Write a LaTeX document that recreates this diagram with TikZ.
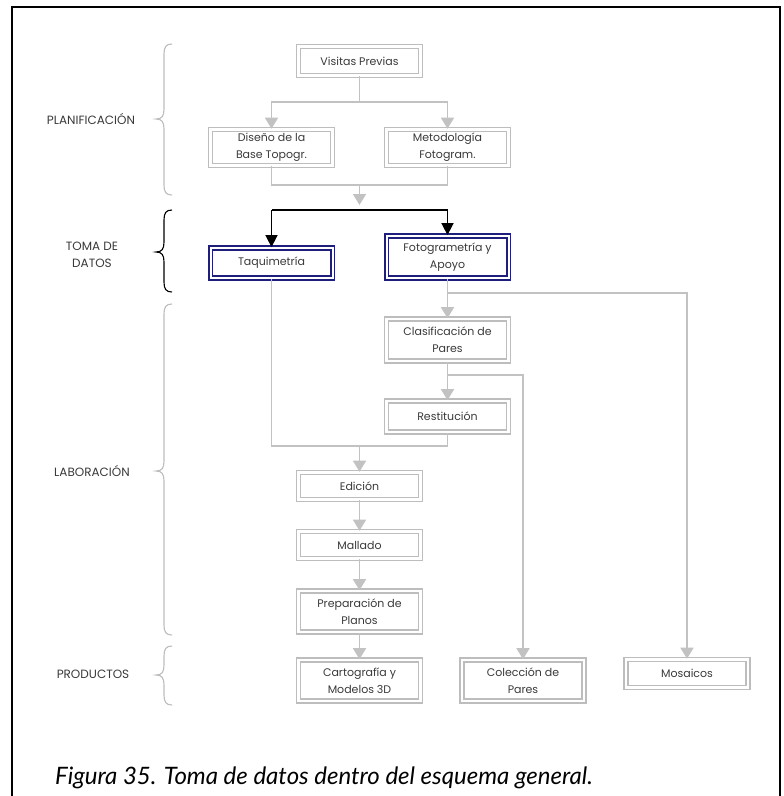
\documentclass[tikz,border=0pt]{standalone}
\usepackage{fontspec}
\setmainfont{Poppins}
\newfontfamily\capfont{Lato}
\usetikzlibrary{arrows.meta}

\definecolor{linegray}{HTML}{C2C2C2}
\definecolor{boxgray}{HTML}{BDBDBD}
\definecolor{navy}{HTML}{1E1E7C}
\definecolor{ink}{HTML}{3A3A3A}

% curly bracket opening to the right, point at the left
\newcommand\secbrace[4]{%
  \draw[#1, line width=1.1pt]
    (172,#2) .. controls (166,#2) and (164,{#2+3}) .. (164,{#2+10})
    -- (164,{#3-10}) .. controls (164,{#3-3}) and (162,#3) .. (156,#3)
    .. controls (162,#3) and (164,{#3+3}) .. (164,{#3+10})
    -- (164,{#4-10}) .. controls (164,{#4-3}) and (166,#4) .. (172,#4);}

\begin{document}
\begin{tikzpicture}[x=1pt,y=-1pt,
  every node/.style={font=\fontsize{11}{17}\selectfont, text=ink},
  stage/.style={draw=boxgray, double=white, double distance=2.4pt, line width=1.6pt,
    fill=white, align=center, minimum width=122pt, inner sep=0pt},
  stagehi/.style={stage, draw=navy, line width=1.8pt, double distance=2pt},
  flow/.style={draw=linegray, line width=1.6pt},
  flowarrow/.style={flow, -{Triangle[width=13pt,length=11pt]}},
  blackarrow/.style={draw=black, line width=1.6pt, -{Triangle[width=12pt,length=12pt]}},
  phase/.style={font=\fontsize{12}{17}\selectfont, align=center, text=ink}]

\fill[white] (0,0) rectangle (784,796);
\useasboundingbox (0,0) rectangle (784,796);

% outer frame, open at the bottom
\draw[line width=2.6pt] (12,796) -- (12,7) -- (780,7) -- (780,796);

% stages
\node[stage, minimum height=29pt] (vis) at (359.5,61) {Visitas Previas};
\node[stage, minimum height=36pt] (dis) at (271.5,147.5) {Diseño de la\\Base Topogr.};
\node[stage, minimum height=36pt] (met) at (447.5,147.5) {Metodología\\Fotogram.};
\node[stagehi, minimum height=30pt] (taq) at (271.5,263) {Taquimetría};
\node[stagehi, minimum height=42pt] (fot) at (447.5,257) {Fotogrametría y\\Apoyo};
\node[stage, minimum height=42pt] (cla) at (447.5,340) {Clasificación de\\Pares};
\node[stage, minimum height=31pt] (res) at (447.5,416.5) {Restitución};
\node[stage, minimum height=27pt] (edi) at (359.5,486) {Edición};
\node[stage, minimum height=27pt] (mal) at (359.5,545) {Mallado};
\node[stage, minimum height=41pt] (pre) at (359.5,611.5) {Preparación de\\Planos};
\node[stage, minimum height=41pt] (car) at (359.5,680.5) {Cartografía y\\Modelos 3D};
\node[stage, minimum height=41pt] (col) at (523,680.5) {Colección de\\Pares};
\node[stage, minimum height=28pt] (mos) at (687,673.5) {Mosaicos};

% junction points
\coordinate (j1) at (359.5,102);
\coordinate (j2) at (359.5,185);
\coordinate (j3) at (359.5,205);
\coordinate (k1) at (359.5,210);
\coordinate (j4) at (447.5,293);
\coordinate (j5) at (447.5,375);
\coordinate (j6) at (359.5,446);

% planning
\draw[flow] (vis) -- (j1);
\draw[flowarrow] (j1) -| (dis.north);
\draw[flowarrow] (j1) -| (met.north);
\draw[flow] (dis.south) |- (j2) -| (met.south);
\draw[flowarrow] (j2) -- (j3);

% data capture
\draw[black, line width=1.6pt] (k1) -- (taq.north |- k1);
\draw[black, line width=1.6pt] (k1) -- (fot.north |- k1);
\draw[blackarrow] (taq.north |- k1) -- (taq.north);
\draw[blackarrow] (fot.north |- k1) -- (fot.north);

% processing
\draw[flowarrow] (fot) -- (cla);
\draw[flowarrow] (j4) -| (mos.north);
\draw[flowarrow] (cla) -- (res);
\draw[flowarrow] (j5) -| (col.north);
\draw[flow] (taq.south) |- (j6) -| (res.south);
\draw[flowarrow] (j6) -- (edi);
\draw[flowarrow] (edi) -- (mal);
\draw[flowarrow] (mal) -- (pre);
\draw[flowarrow] (pre) -- (car);

% phase brackets and names
\secbrace{boxgray}{44}{119}{195}
\secbrace{black}{210}{252}{292}
\secbrace{boxgray}{304}{471}{635}
\secbrace{boxgray}{646}{675}{705}

\node[phase] (p1) at (91,119) {PLANIFICACIÓN};
\node[phase] (p2) at (92,255) {TOMA DE\\DATOS};
\node[phase] (p3) at (92,471) {LABORACIÓN};
\node[phase] (p4) at (93,674) {PRODUCTOS};

% caption
\node[anchor=base west, inner sep=0pt, text=black,
  font=\capfont\itshape\fontsize{24}{28}\selectfont] (cap) at (55,784)
  {Figura 35. Toma de datos dentro del esquema general.};
\end{tikzpicture}
\end{document}
